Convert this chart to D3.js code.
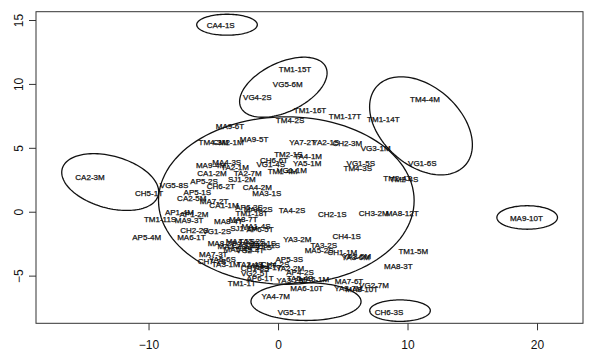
<!DOCTYPE html>
<html>
<head>
<meta charset="utf-8">
<script src="https://cdn.jsdelivr.net/npm/d3@7"></script>
<style>
body{margin:0;background:#fff}
svg{display:block}
text{font-family:"Liberation Sans",Arial,sans-serif}
</style>
</head>
<body>
<svg id="chart"></svg>
<script>
// point labels (text is drawn centred on each point)
var labels=["CA4-1S","TM1-15T","VG5-6M","VG4-2S","TM1-16T","TM1-17T","TM1-14T","TM4-4M","TM4-2S","MA9-6T",
  "TM4-3M","CM2-1M","MA9-5T","YA7-2T","YA2-1S","CH2-3M","VG3-1M","TM2-1S","TA4-1M","CH6-6T",
  "YA5-1M","VG1-4S","VG1-1M","TM1-4M","VG1-5S","TM4-3S","VG1-6S","TM2-4T","TM2-4S","MA9-4M",
  "MA4-3S","TA2-1M","CA1-2M","TA2-7M","SJ1-2M","AP5-2S","CH6-2T","CA4-2M","MA3-1S","AP5-1S",
  "VG5-8S","CH5-1T","CA2-3M","CA2-5M","MA7-2T","CA1-1M","AP6-3S","TM1-18T","MA4-2S","TA4-2S",
  "CH2-1S","CH3-2M","MA8-12T","MA9-10T","AP1-4M","AP1-2M","TM1-11S","MA9-3T","MA8-4T","MA8-7T",
  "SJ1-1M","MA1-4S","AP6-5T","AP5-4M","CH2-2S","VG1-2S","MA6-1T","YA3-2M","CH4-1S","TA3-2S",
  "MA5-2S","CH1-1M","YA3-6M","YA3-5M","TM1-5M","MA8-3T","AP5-3S","MA8-2S","MA4-1S","TA2-2S",
  "VG2-1S","MA2-3S","CA3-2S","AP3-1S","VG2-4T","MA5-4S","CH3-1S","MA7-3T","YA5-6S","CH7-2S",
  "TA3-1M","TA2-4S","MA1-2T","CH1-3S","AP4-1T","VG2-5T","AP6-1T","TM1-1T","YA3-2S","MA5-1M",
  "TA5-4S","MA6-10T","YA4-7M","MA7-6T","YA3-7M","MA8-10T","VG2-7M","CH6-3S","VG5-1T","AP4-2S",
  "YA2-2M","CH4-2S"];
var xs=[-4.43,1.31,0.75,-1.60,2.47,5.17,8.13,11.35,0.93,-3.71,
  -4.99,-3.84,-1.85,1.89,3.68,5.35,7.54,0.80,2.32,-0.31,
  2.25,-0.56,1.08,0.35,6.39,6.16,11.14,9.21,9.73,-5.17,
  -3.96,-3.32,-5.10,-2.34,-2.80,-5.71,-4.42,-1.60,-0.87,-6.23,
  -8.03,-9.96,-14.52,-6.66,-4.94,-4.17,-2.24,-2.03,-1.54,1.08,
  4.19,7.39,9.58,19.18,-7.62,-6.49,-9.11,-6.87,-3.84,-2.68,
  -2.63,-1.70,-1.39,-10.14,-6.46,-4.73,-6.69,1.49,5.30,3.53,
  3.17,4.97,6.00,6.10,10.45,9.29,0.87,-4.32,-2.93,-2.01,
  -1.24,-3.55,-2.47,-1.54,-2.16,-3.09,-0.93,-5.00,-4.30,-5.10,
  -4.04,-2.16,-1.24,-1.78,-0.77,-1.78,-1.39,-2.80,0.93,2.78,
  1.70,2.22,-0.18,5.48,5.43,6.46,7.41,8.57,1.06,1.70,
  0.93,-0.23];
var ys=[14.59,11.17,9.98,8.94,7.95,7.50,7.24,8.78,7.16,6.72,
  5.47,5.42,5.66,5.42,5.45,5.39,4.95,4.51,4.33,4.04,
  3.83,3.73,3.28,3.18,3.83,3.39,3.83,2.66,2.53,3.65,
  3.86,3.52,3.00,3.00,2.53,2.42,2.03,1.91,1.44,1.52,
  2.09,1.48,2.73,1.05,0.86,0.52,0.39,-0.13,0.21,0.13,
  -0.18,-0.08,-0.13,-0.47,-0.05,-0.18,-0.60,-0.65,-0.78,-0.59,
  -1.31,-1.12,-1.39,-1.97,-1.43,-1.51,-2.00,-2.13,-1.88,-2.60,
  -2.99,-3.13,-3.52,-3.48,-3.05,-4.30,-3.72,-2.48,-2.29,-2.29,
  -2.45,-2.72,-2.60,-2.80,-2.99,-2.91,-2.60,-3.30,-3.70,-3.89,
  -4.09,-4.09,-4.20,-4.44,-4.32,-4.79,-5.20,-5.59,-5.34,-5.28,
  -5.20,-5.98,-6.64,-5.47,-5.96,-6.06,-5.73,-7.86,-7.86,-4.77,
  -4.40,-4.13];

// cluster ellipses: centre, semi-axes (data units), rotation (degrees, data space)
var ellCx=[-3.94,0.41,11.04,-12.96,19.24,0.64,2.16,9.42];
var ellCy=[14.63,9.74,6.72,2.32,-0.45,0.875,-7.03,-7.74];
var ellA=[2.34,3.64,4.6,3.85,2.34,9.87,4.25,2.34];
var ellB=[0.82,1.92,3.05,2.03,0.92,6.55,1.48,0.84];
var ellAngle=[0,26,-42.5,-16,0,0,0,0];

var xTicks=[-10,0,10,20];
var yTicks=[-5,0,5,10,15];

var W=589,H=353;
var box={left:36,right:583,top:11.7,bottom:323.3};

var svg=d3.select("#chart").attr("width",W).attr("height",H);

var xScale=d3.scaleLinear().domain([-18.69,23.55]).range([box.left,box.right]);
var yScale=d3.scaleLinear().domain([-8.73,15.65]).range([box.bottom,box.top]);

// axes
var xAxis=d3.axisBottom(xScale).tickValues(xTicks).tickSize(7).tickPadding(10).tickFormat(d3.format("d"));
var gx=svg.append("g")
   .attr("transform","translate(0,"+box.bottom+")")
   .call(xAxis);
gx.select(".domain").remove();
gx.selectAll("line").attr("stroke","#333");
gx.selectAll("text").attr("font-size",12).attr("fill","#111")
  .style("font-family","'Liberation Sans',Arial,sans-serif");

var yAxis=d3.axisLeft(yScale).tickValues(yTicks).tickSize(7).tickFormat(d3.format("d"));
var gy=svg.append("g")
   .attr("transform","translate("+box.left+",0)")
   .call(yAxis);
gy.select(".domain").remove();
gy.selectAll("line").attr("stroke","#333");
gy.selectAll("text")
  .attr("x",0).attr("y",0).attr("dy","0.35em")
  .attr("text-anchor","middle")
  .attr("transform","translate(-17,0) rotate(-90)")
  .attr("font-size",12).attr("fill","#111")
  .style("font-family","'Liberation Sans',Arial,sans-serif");

// plot box
svg.append("rect")
   .attr("x",box.left).attr("y",box.top)
   .attr("width",box.right-box.left).attr("height",box.bottom-box.top)
   .attr("fill","none").attr("stroke","#333").attr("stroke-width",1);

// ellipses
var ellLine=d3.line()
   .x(function(p){return xScale(p[0]);})
   .y(function(p){return yScale(p[1]);})
   .curve(d3.curveLinearClosed);
var steps=d3.range(0,360,3);
svg.selectAll("path.ell")
   .data(d3.range(ellCx.length))
   .enter()
   .append("path")
   .classed("ell",true)
   .attr("d",function(i){
     var phi=ellAngle[i]*Math.PI/180;
     var pts=steps.map(function(deg){
       var t=deg*Math.PI/180;
       var u=ellA[i]*Math.cos(t), v=ellB[i]*Math.sin(t);
       return [ellCx[i]+u*Math.cos(phi)-v*Math.sin(phi),
               ellCy[i]+u*Math.sin(phi)+v*Math.cos(phi)];
     });
     return ellLine(pts);
   })
   .attr("fill","none")
   .attr("stroke","#111")
   .attr("stroke-width",1.3);

// labels
svg.selectAll("text.lab")
   .data(labels)
   .enter()
   .append("text")
   .classed("lab",true)
   .attr("x",function(d,i){return xScale(xs[i]);})
   .attr("y",function(d,i){return yScale(ys[i]);})
   .attr("dy","0.35em")
   .attr("text-anchor","middle")
   .attr("font-size",8)
   .attr("fill","#111")
   .attr("stroke","#111")
   .attr("stroke-width",0.25)
   .text(function(d){return d;});
</script>
</body>
</html>
